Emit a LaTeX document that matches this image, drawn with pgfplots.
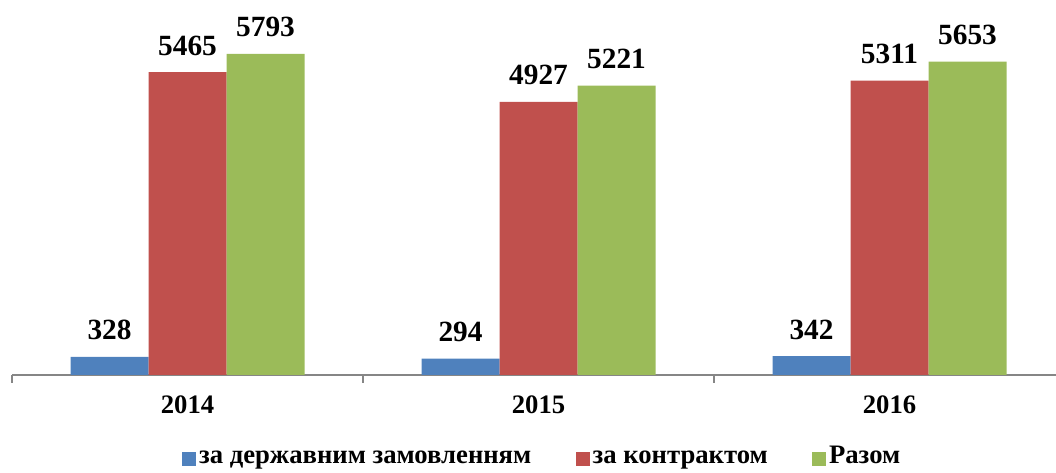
\documentclass[border=0pt]{standalone}
\usepackage{fontspec}
\setmainfont{Liberation Serif}
\usepackage{pgfplots}
\pgfplotsset{compat=1.18}
\definecolor{cb}{HTML}{4F81BD}
\definecolor{cr}{HTML}{C0504D}
\definecolor{cg}{HTML}{9BBB59}
\definecolor{axgray}{HTML}{868686}
\begin{document}
\begin{tikzpicture}
\begin{axis}[
  at={(0pt,0pt)}, anchor=south west,
  scale only axis, width=789.75pt, height=249.4pt,
  xmin=-0.5, xmax=2.5, ymin=0, ymax=6000,
  ybar=0pt, bar width=58.5pt,
  axis y line=none, axis x line=bottom,
  x axis line style={-, draw=axgray, line width=1.5pt},
  xtick={0,1,2}, xticklabels={2014,2015,2016},
  major tick length=0pt,
  minor xtick={-0.5,0.5,1.5,2.5}, minor tick length=6pt,
  tick align=outside,
  minor tick style={draw=axgray, line width=1.5pt},
  xticklabel style={font=\fontsize{20}{24}\bfseries\selectfont, anchor=base, yshift=-29.25pt},
  /pgf/number format/1000 sep={},
  /pgf/number format/assume math mode=true,
  nodes near coords,
  every node near coord/.append style={font=\fontsize{22}{26}\bfseries\selectfont, anchor=base, yshift=12.75pt, text=black},
  clip=false,
  legend columns=3,
  legend style={draw=none, fill=none, at={(0.504,-0.256)}, anchor=center,
    font=\fontsize{20}{24}\bfseries\selectfont,
    nodes={text height=0.7em, text depth=0.25em},
    /tikz/every even column/.append style={column sep=31.5pt}},
  legend image code/.code={\fill[#1] (-2pt,-0.45em) rectangle (8.5pt,-0.45em+10.5pt);},
]
\addplot[fill=cb, draw=none] coordinates {(0,328) (1,294) (2,342)};
\addplot[fill=cr, draw=none] coordinates {(0,5465) (1,4927) (2,5311)};
\addplot[fill=cg, draw=none] coordinates {(0,5793) (1,5221) (2,5653)};
\legend{за державним замовленням, за контрактом, Разом}
\end{axis}
\pgfresetboundingbox
\path (-9pt,-73.5pt) rectangle (783pt,281.25pt);
\end{tikzpicture}
\end{document}
